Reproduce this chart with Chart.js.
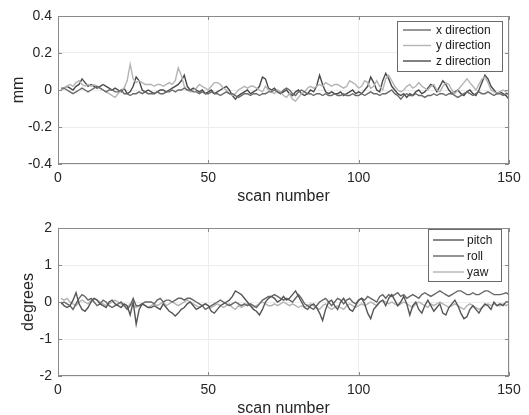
<!DOCTYPE html>
<html>
<head>
<meta charset="utf-8">
<script src="https://cdn.jsdelivr.net/npm/chart.js@4/dist/chart.umd.min.js"></script>
<style>
html,body{margin:0;padding:0;background:#fff;overflow:hidden;width:529px;height:415px;}
#c1{position:absolute;left:0;top:0;}
#c2{position:absolute;left:0;top:200px;}
</style>
</head>
<body>
<canvas id="c1" width="529" height="215"></canvas>
<canvas id="c2" width="529" height="230"></canvas>
<script>
// ---- data ----
const scanNumbers = Array.from({length:150},(_,i)=>i+1);
const xTicks = [0,50,100,150];
const mmTicks = [-0.4,-0.2,0,0.2,0.4];
const degTicks = [-2,-1,0,1,2];

const xDirection = [
 0.01,0.01,0.0,-0.01,-0.02,-0.01,0.0,0.01,0.0,-0.01,
 0.0,0.01,0.02,0.01,0.0,-0.01,0.0,0.0,-0.01,-0.01,
 0.0,-0.02,-0.02,-0.03,-0.02,-0.02,-0.01,-0.02,-0.01,-0.02,
 -0.02,-0.02,-0.01,-0.02,-0.02,-0.01,-0.01,0.0,-0.01,0.0,
 0.0,0.01,0.0,0.0,-0.01,-0.01,-0.02,-0.01,-0.02,-0.02,
 -0.01,-0.02,-0.02,-0.03,-0.02,-0.01,-0.02,-0.02,-0.03,-0.04,
 -0.03,-0.02,-0.02,-0.03,-0.02,-0.02,-0.03,-0.02,-0.02,-0.01,
 -0.01,0.0,-0.01,-0.02,0.0,0.01,0.0,-0.02,-0.03,-0.01,
 0.0,-0.01,-0.02,-0.02,-0.03,-0.02,-0.02,-0.03,-0.02,-0.03,
 -0.03,-0.02,-0.03,-0.03,-0.02,-0.03,-0.03,-0.02,-0.03,-0.03,
 -0.02,-0.03,-0.02,-0.01,-0.02,-0.02,-0.03,-0.02,-0.02,-0.01,
 0.0,-0.02,-0.03,-0.05,-0.03,-0.02,-0.03,-0.03,-0.02,-0.03,
 -0.03,-0.04,-0.03,-0.03,-0.02,-0.03,-0.02,-0.02,-0.03,-0.02,
 -0.02,-0.03,-0.04,-0.03,-0.02,-0.01,-0.02,-0.03,-0.02,-0.01,
 -0.02,-0.02,-0.01,-0.02,-0.03,-0.02,-0.02,-0.03,-0.02,-0.02];
const yDirection = [
 0.0,0.01,0.02,0.03,0.02,0.04,0.05,0.03,0.02,0.03,
 0.02,0.03,0.02,0.01,0.0,-0.01,-0.02,-0.03,-0.04,-0.02,
 0.0,0.01,0.05,0.14,0.06,0.04,0.05,0.04,0.03,0.03,
 0.03,0.02,0.03,0.03,0.02,0.03,0.04,0.03,0.05,0.12,
 0.08,0.02,0.0,-0.01,0.0,0.01,0.03,0.02,0.01,0.0,
 0.02,0.04,0.04,0.03,0.01,0.0,-0.02,-0.03,-0.02,0.0,
 0.01,0.02,0.01,0.02,0.02,0.01,0.0,-0.01,0.02,0.0,
 -0.01,-0.02,0.0,-0.01,-0.03,-0.04,-0.02,-0.05,-0.06,-0.04,
 -0.02,-0.01,0.01,0.02,0.01,0.02,0.03,0.02,0.04,0.03,
 0.02,0.03,0.03,0.02,0.01,0.02,0.05,0.04,0.03,0.01,
 0.02,0.05,0.04,0.01,0.02,0.05,0.02,0.0,0.06,0.08,
 0.05,0.02,0.0,-0.01,0.0,0.02,0.03,0.01,0.02,0.04,
 0.02,0.01,0.0,0.02,0.03,0.0,-0.01,0.02,0.04,0.03,
 0.0,-0.02,0.0,0.02,0.04,0.06,0.04,0.02,0.0,0.03,
 0.06,0.07,0.04,0.0,-0.01,-0.02,-0.01,0.0,-0.01,-0.03];
const zDirection = [
 0.0,0.01,0.02,0.01,0.0,0.02,0.03,0.06,0.04,0.02,
 0.03,0.02,0.01,0.02,0.03,0.02,0.01,0.0,0.01,0.0,
 -0.01,0.01,-0.02,-0.01,0.02,0.07,0.05,0.0,-0.01,0.0,
 -0.01,-0.02,-0.01,0.0,0.0,-0.01,0.0,0.01,0.02,0.03,
 0.05,0.08,0.02,0.0,0.01,0.0,-0.01,0.0,-0.02,-0.01,
 0.0,-0.02,-0.01,0.0,0.01,0.02,0.0,-0.03,-0.05,-0.03,
 -0.02,-0.01,0.0,-0.02,-0.01,0.0,0.02,0.07,0.06,0.01,
 0.0,0.01,-0.01,-0.02,-0.01,0.0,-0.02,-0.03,-0.01,0.0,
 -0.02,-0.03,-0.02,0.0,-0.01,0.02,0.08,0.03,-0.01,-0.02,
 -0.01,-0.02,-0.02,-0.01,-0.03,-0.02,-0.01,0.0,-0.02,-0.01,
 -0.02,0.0,0.02,0.07,0.04,0.0,-0.01,0.05,0.09,0.06,
 0.02,0.0,-0.02,-0.03,-0.02,-0.04,-0.02,-0.03,-0.01,0.0,
 -0.02,-0.01,0.01,0.03,0.02,-0.01,0.02,0.05,0.03,0.0,
 -0.02,-0.01,0.0,-0.02,-0.03,-0.01,0.0,-0.02,-0.03,0.0,
 0.04,0.08,0.06,0.02,0.0,-0.02,-0.01,-0.02,-0.03,-0.05];

const pitch = [
 0.0,-0.1,-0.15,-0.1,0.05,0.25,-0.05,-0.2,-0.25,-0.15,
 0.0,0.1,0.05,-0.05,-0.1,-0.15,0.0,0.05,-0.05,-0.1,
 -0.15,-0.05,-0.1,-0.35,0.0,-0.6,-0.2,-0.05,-0.1,-0.15,
 -0.15,-0.1,-0.15,-0.2,-0.05,-0.15,-0.25,-0.3,-0.38,-0.3,
 -0.2,-0.15,-0.05,0.0,-0.1,-0.2,-0.15,-0.1,-0.05,-0.1,
 -0.25,-0.3,-0.2,-0.1,-0.05,0.0,0.05,0.15,0.3,0.25,
 0.2,0.1,0.0,-0.1,-0.2,-0.25,-0.35,-0.2,0.0,0.1,
 0.15,0.1,0.0,0.05,0.15,0.05,0.1,0.2,0.3,0.15,
 0.0,-0.15,-0.2,-0.1,-0.05,-0.15,-0.3,-0.5,-0.2,0.0,
 0.05,-0.1,-0.2,0.0,0.1,-0.05,-0.2,-0.25,-0.1,0.05,
 0.1,-0.05,-0.3,-0.45,-0.2,-0.1,0.0,0.05,-0.1,0.1,
 0.2,0.05,-0.1,0.0,0.15,-0.05,-0.35,-0.1,0.0,-0.2,
 -0.3,-0.1,0.05,-0.1,-0.25,-0.15,-0.05,-0.3,-0.35,-0.15,
 -0.05,0.05,-0.1,-0.3,-0.45,-0.4,-0.2,-0.1,-0.2,-0.3,
 -0.15,-0.05,-0.1,-0.2,0.0,-0.1,-0.05,-0.1,0.0,0.0];
const roll = [
 -0.05,0.0,-0.05,-0.1,-0.2,-0.05,0.1,0.2,0.15,0.05,
 0.1,0.0,-0.1,-0.05,0.05,0.0,-0.1,-0.15,-0.1,-0.05,
 0.0,-0.1,-0.2,-0.1,0.1,-0.1,-0.1,-0.05,0.0,0.0,
 0.0,-0.05,0.05,0.1,0.0,0.05,0.05,0.0,0.05,0.1,
 0.1,0.05,0.1,0.1,0.05,0.0,-0.05,-0.1,-0.2,-0.15,
 -0.1,-0.05,0.0,0.05,0.0,-0.05,-0.1,-0.05,0.0,-0.05,
 -0.1,-0.05,-0.1,-0.05,-0.1,-0.15,-0.05,0.05,0.1,0.15,
 0.15,0.2,0.15,0.1,0.05,0.1,0.05,0.0,0.1,0.2,
 0.1,-0.05,-0.1,-0.15,-0.2,-0.1,0.0,0.05,0.1,0.0,
 -0.1,0.0,0.1,0.05,-0.05,0.05,0.1,0.0,-0.05,0.05,
 0.1,0.05,0.15,0.1,0.05,0.0,0.15,0.2,0.1,0.2,
 0.15,0.2,0.25,0.15,0.2,0.1,0.15,0.2,0.15,0.1,
 0.2,0.25,0.2,0.15,0.2,0.25,0.3,0.25,0.2,0.15,
 0.2,0.25,0.3,0.3,0.25,0.2,0.2,0.25,0.2,0.2,
 0.25,0.3,0.3,0.25,0.2,0.2,0.2,0.22,0.25,0.2];
const yaw = [
 0.1,0.05,0.1,0.0,-0.05,-0.1,0.0,0.05,0.0,-0.05,
 0.05,0.1,0.05,0.0,-0.05,-0.1,-0.05,0.0,0.05,0.0,
 -0.05,-0.1,-0.15,-0.05,-0.1,-0.15,-0.1,-0.05,-0.1,-0.15,
 -0.1,-0.05,-0.1,-0.05,0.0,-0.1,-0.05,0.0,-0.05,-0.1,
 -0.05,0.0,0.05,0.0,-0.05,-0.1,-0.15,-0.1,-0.05,-0.1,
 -0.15,-0.1,-0.05,-0.1,-0.15,-0.1,-0.05,-0.15,-0.2,-0.1,
 -0.15,-0.1,-0.05,-0.1,-0.15,-0.1,-0.05,0.0,-0.05,-0.1,
 -0.1,-0.05,-0.1,-0.05,0.0,-0.05,-0.1,-0.05,-0.1,-0.15,
 -0.1,-0.15,-0.1,-0.05,-0.1,-0.15,-0.2,-0.1,-0.05,-0.15,
 -0.2,-0.15,-0.1,-0.15,-0.2,-0.1,-0.05,-0.1,-0.15,-0.1,
 -0.05,-0.1,-0.05,0.0,-0.05,-0.1,0.0,0.05,0.0,-0.05,
 0.0,-0.05,-0.1,-0.05,0.0,-0.05,-0.1,-0.15,-0.05,0.0,
 -0.05,-0.1,-0.15,-0.05,-0.1,-0.05,0.0,-0.05,-0.1,-0.15,
 -0.1,-0.05,-0.1,-0.15,-0.2,-0.1,-0.05,-0.1,-0.15,-0.2,
 -0.15,-0.1,-0.05,-0.1,-0.05,-0.1,-0.1,-0.05,-0.1,-0.05];

// ---- styling / helpers ----
const FONT = "'Liberation Sans', Arial, Helvetica, sans-serif";
const toXY = arr => arr.map((v,i)=>({x:scanNumbers[i], y:v}));

const boxPlugin = {
  id:'boxPlugin',
  afterDraw(chart){
    const {ctx, chartArea:a, scales} = chart;
    ctx.save();
    ctx.strokeStyle = '#8a8a8a';
    ctx.lineWidth = 1;
    ctx.strokeRect(a.left+0.5, a.top+0.5, a.right-a.left-1, a.bottom-a.top-1);
    ctx.beginPath();
    scales.x.ticks.forEach(t=>{
      const px = Math.round(scales.x.getPixelForValue(t.value))+0.5;
      ctx.moveTo(px,a.bottom); ctx.lineTo(px,a.bottom-4);
      ctx.moveTo(px,a.top); ctx.lineTo(px,a.top+4);
    });
    scales.y.ticks.forEach(t=>{
      const py = Math.round(scales.y.getPixelForValue(t.value))+0.5;
      ctx.moveTo(a.left,py); ctx.lineTo(a.left+4,py);
      ctx.moveTo(a.right,py); ctx.lineTo(a.right-4,py);
    });
    ctx.stroke();
    const L = chart.options.plugins.boxLegend;
    ctx.fillStyle = '#fff';
    ctx.fillRect(L.x, L.y, L.w, L.h);
    ctx.strokeStyle = '#6a6a6a';
    ctx.strokeRect(L.x+0.5, L.y+0.5, L.w, L.h);
    ctx.font = '12px ' + FONT;
    ctx.textBaseline = 'middle';
    ctx.textAlign = 'left';
    chart.data.datasets.forEach((ds,i)=>{
      const yy = L.row0 + i*L.dy;
      ctx.strokeStyle = ds.borderColor;
      ctx.lineWidth = ds.borderWidth;
      ctx.beginPath(); ctx.moveTo(L.l0,yy); ctx.lineTo(L.l1,yy); ctx.stroke();
      ctx.fillStyle = '#1a1a1a';
      ctx.fillText(ds.label, L.tx, yy+0.5);
    });
    ctx.restore();
  }
};

function makeChart(id, datasets, yMin, yMax, yTicks, yTitle, yTitlePad, pad, legend, tickFmt){
  return new Chart(document.getElementById(id), {
    type:'line',
    data:{datasets},
    options:{
      responsive:false, animation:false,
      layout:{padding:pad},
      elements:{point:{radius:0}, line:{tension:0}},
      plugins:{legend:{display:false}, tooltip:{enabled:false}, boxLegend:legend},
      scales:{
        x:{type:'linear', min:0, max:150,
          afterBuildTicks(s){ s.ticks = xTicks.map(v=>({value:v})); },
          afterFit(s){ s.height = 42; s.paddingLeft=0; s.paddingRight=0; },
          grid:{color:'#ececec', drawTicks:false},
          border:{display:false},
          ticks:{padding:6, color:'#262626', font:{family:FONT, size:14}, maxRotation:0},
          title:{display:true, text:'scan number', color:'#262626', font:{family:FONT, size:16}, padding:{top:0,bottom:0}}
        },
        y:{min:yMin, max:yMax,
          afterBuildTicks(s){ s.ticks = yTicks.map(v=>({value:v})); },
          afterFit(s){ s.width = 58; s.paddingTop=0; s.paddingBottom=0; },
          grid:{color:'#ececec', drawTicks:false},
          border:{display:false},
          ticks:{padding:6, color:'#262626', font:{family:FONT, size:14}, callback:tickFmt},
          title:{display:true, text:yTitle, color:'#262626', font:{family:FONT, size:16}, padding:{top:yTitlePad,bottom:0}}
        }
      }
    },
    plugins:[boxPlugin]
  });
}

makeChart('c1', [
  {label:'x direction', data:toXY(xDirection), borderColor:'#6a6a6a', borderWidth:1.4},
  {label:'y direction', data:toXY(yDirection), borderColor:'#b4b4b4', borderWidth:1.4},
  {label:'z direction', data:toXY(zDirection), borderColor:'#4a4a4a', borderWidth:1.4}
], -0.4, 0.4, mmTicks, 'mm', 9, {left:0, top:16, right:20, bottom:9},
 {x:397, y:21, w:105, h:50, l0:403, l1:431, tx:436, row0:30, dy:15.5},
 v => (Math.abs(v)<1e-9 ? '0' : v.toFixed(1)));

makeChart('c2', [
  {label:'pitch', data:toXY(pitch), borderColor:'#555555', borderWidth:1.4},
  {label:'roll', data:toXY(roll), borderColor:'#666666', borderWidth:1.4},
  {label:'yaw', data:toXY(yaw), borderColor:'#b4b4b4', borderWidth:1.4}
], -2, 2, degTicks, 'degrees', 19, {left:0, top:28, right:20, bottom:12},
 {x:428, y:29, w:73, h:52, l0:433, l1:464, tx:467, row0:40, dy:16},
 v => String(v));
</script>
</body>
</html>
